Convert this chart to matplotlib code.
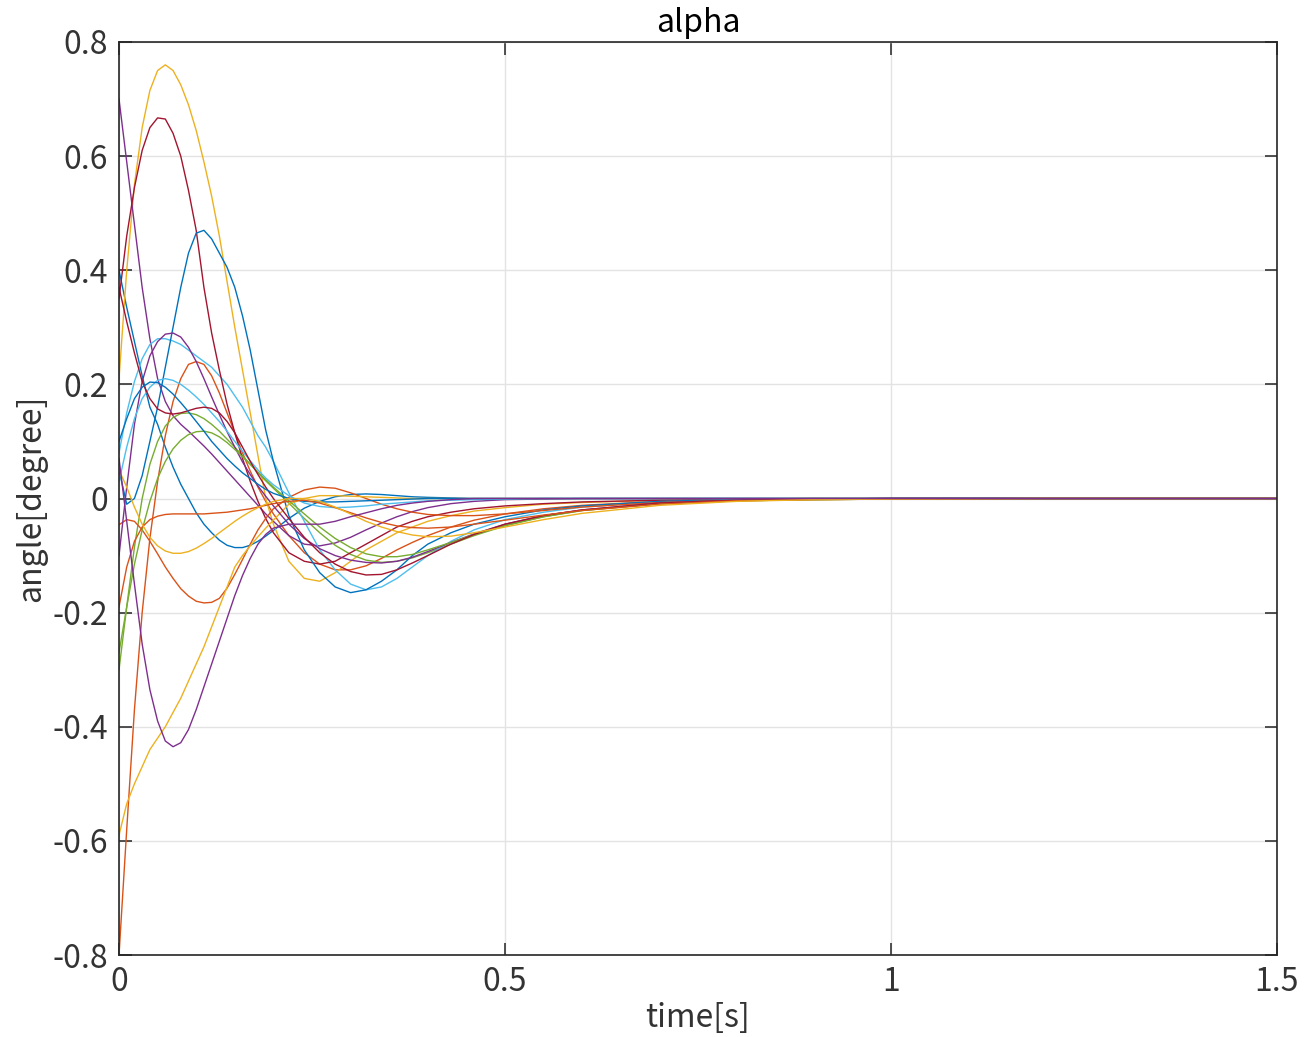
import matplotlib
matplotlib.use("Agg")
import matplotlib.pyplot as plt

plt.rcParams['font.family'] = ['Noto Sans CJK JP', 'DejaVu Sans']

# sample times (s)
t = [0, 0.01, 0.02, 0.03, 0.04, 0.05, 0.06, 0.07, 0.08, 0.09, 0.10,
     0.11, 0.12, 0.13, 0.14, 0.15, 0.16, 0.17, 0.18, 0.19, 0.20,
     0.22, 0.24, 0.26, 0.28, 0.30, 0.32, 0.34, 0.36, 0.38, 0.40,
     0.43, 0.46, 0.50, 0.55, 0.60, 0.70, 0.80, 0.90, 1.00, 1.20, 1.50]

# series values (plot order)
b1 = [0.40, 0.335, 0.275, 0.215, 0.16, 0.13, 0.09, 0.055, 0.025, 0.0, -0.025,
      -0.045, -0.06, -0.073, -0.082, -0.086, -0.086, -0.082, -0.075, -0.066, -0.056,
      -0.035, -0.017, -0.005, 0.003, 0.007, 0.008, 0.007, 0.005, 0.003, 0.002,
      0.001, 0.0, 0.0, 0.0, 0.0, 0.0, 0.0, 0.0, 0.0, 0.0, 0.0]
o1 = [-0.80, -0.58, -0.37, -0.20, -0.07, 0.03, 0.11, 0.17, 0.21, 0.235, 0.24,
      0.235, 0.215, 0.185, 0.15, 0.115, 0.08, 0.048, 0.02, -0.005, -0.027,
      -0.065, -0.095, -0.115, -0.125, -0.125, -0.118, -0.105, -0.09, -0.077, -0.065,
      -0.05, -0.038, -0.027, -0.018, -0.012, -0.005, -0.002, -0.001, 0.0, 0.0, 0.0]
y1 = [0.21, 0.40, 0.55, 0.65, 0.715, 0.75, 0.76, 0.75, 0.725, 0.69, 0.645,
      0.59, 0.53, 0.46, 0.38, 0.30, 0.225, 0.15, 0.075, 0.0, -0.045,
      -0.11, -0.14, -0.145, -0.13, -0.11, -0.09, -0.075, -0.06, -0.05, -0.04,
      -0.03, -0.022, -0.016, -0.01, -0.007, -0.003, -0.001, 0.0, 0.0, 0.0, 0.0]
p1 = [0.70, 0.59, 0.48, 0.37, 0.28, 0.21, 0.17, 0.145, 0.13, 0.118, 0.105,
      0.092, 0.078, 0.063, 0.048, 0.033, 0.018, 0.003, -0.012, -0.027, -0.04,
      -0.065, -0.08, -0.083, -0.078, -0.068, -0.055, -0.043, -0.032, -0.023, -0.016,
      -0.009, -0.005, -0.002, -0.001, 0.0, 0.0, 0.0, 0.0, 0.0, 0.0, 0.0]
g1 = [-0.30, -0.19, -0.085, 0.0, 0.06, 0.10, 0.127, 0.142, 0.149, 0.15, 0.147,
      0.14, 0.13, 0.118, 0.104, 0.09, 0.075, 0.06, 0.045, 0.031, 0.018,
      -0.008, -0.035, -0.06, -0.082, -0.098, -0.108, -0.112, -0.11, -0.104, -0.095,
      -0.08, -0.065, -0.048, -0.032, -0.021, -0.009, -0.004, -0.002, -0.001, 0.0, 0.0]
c1 = [0.08, 0.15, 0.205, 0.245, 0.27, 0.28, 0.28, 0.276, 0.27, 0.26, 0.25,
      0.24, 0.23, 0.215, 0.20, 0.18, 0.16, 0.135, 0.11, 0.09, 0.065,
      0.01, -0.04, -0.09, -0.125, -0.15, -0.16, -0.155, -0.14, -0.12, -0.10,
      -0.075, -0.055, -0.037, -0.024, -0.015, -0.006, -0.003, -0.001, 0.0, 0.0, 0.0]
r1 = [0.35, 0.46, 0.545, 0.61, 0.65, 0.667, 0.665, 0.64, 0.60, 0.54, 0.47,
      0.37, 0.29, 0.225, 0.165, 0.115, 0.07, 0.03, -0.005, -0.035, -0.06,
      -0.095, -0.11, -0.115, -0.11, -0.095, -0.08, -0.065, -0.05, -0.04, -0.032,
      -0.024, -0.018, -0.013, -0.009, -0.006, -0.003, -0.001, 0.0, 0.0, 0.0, 0.0]
b2 = [0.05, -0.01, 0.0, 0.04, 0.10, 0.16, 0.23, 0.30, 0.37, 0.43, 0.465,
      0.47, 0.455, 0.43, 0.405, 0.37, 0.32, 0.26, 0.19, 0.12, 0.065,
      -0.03, -0.09, -0.13, -0.155, -0.165, -0.16, -0.145, -0.125, -0.10, -0.08,
      -0.06, -0.045, -0.032, -0.02, -0.013, -0.005, -0.002, -0.001, 0.0, 0.0, 0.0]
o2 = [-0.046, -0.037, -0.04, -0.055, -0.075, -0.097, -0.12, -0.14, -0.158, -0.171, -0.18,
      -0.183, -0.182, -0.175, -0.157, -0.133, -0.107, -0.08, -0.055, -0.035, -0.018,
      0.002, 0.015, 0.02, 0.018, 0.01, 0.0, -0.01, -0.018, -0.024, -0.028,
      -0.03, -0.03, -0.027, -0.021, -0.015, -0.007, -0.003, -0.001, 0.0, 0.0, 0.0]
y2 = [-0.59, -0.535, -0.50, -0.47, -0.44, -0.42, -0.40, -0.375, -0.35, -0.32, -0.29,
      -0.26, -0.225, -0.19, -0.155, -0.12, -0.10, -0.083, -0.067, -0.052, -0.038,
      -0.01, 0.0, 0.005, 0.005, 0.004, 0.003, 0.002, 0.001, 0.0, 0.0,
      0.0, 0.0, 0.0, 0.0, 0.0, 0.0, 0.0, 0.0, 0.0, 0.0, 0.0]
p2 = [-0.10, 0.02, 0.13, 0.205, 0.25, 0.275, 0.288, 0.29, 0.283, 0.265, 0.24,
      0.21, 0.178, 0.147, 0.117, 0.09, 0.064, 0.042, 0.022, 0.004, -0.013,
      -0.045, -0.07, -0.088, -0.10, -0.108, -0.112, -0.113, -0.11, -0.103, -0.093,
      -0.077, -0.062, -0.045, -0.03, -0.02, -0.008, -0.003, -0.001, 0.0, 0.0, 0.0]
g2 = [-0.27, -0.19, -0.115, -0.055, -0.005, 0.035, 0.065, 0.087, 0.102, 0.112, 0.117,
      0.118, 0.115, 0.108, 0.098, 0.086, 0.073, 0.06, 0.046, 0.033, 0.02,
      -0.004, -0.027, -0.05, -0.07, -0.086, -0.097, -0.102, -0.102, -0.098, -0.09,
      -0.077, -0.063, -0.047, -0.032, -0.021, -0.009, -0.004, -0.002, -0.001, 0.0, 0.0]
c2 = [0.03, 0.09, 0.14, 0.175, 0.195, 0.207, 0.21, 0.207, 0.20, 0.19, 0.178,
      0.165, 0.15, 0.135, 0.118, 0.10, 0.083, 0.066, 0.05, 0.036, 0.024,
      0.005, -0.008, -0.014, -0.016, -0.015, -0.013, -0.01, -0.008, -0.006, -0.004,
      -0.003, -0.002, -0.001, 0.0, 0.0, 0.0, 0.0, 0.0, 0.0, 0.0, 0.0]
r2 = [0.37, 0.31, 0.255, 0.205, 0.175, 0.157, 0.15, 0.148, 0.15, 0.154, 0.158,
      0.16, 0.158, 0.15, 0.135, 0.115, 0.09, 0.065, 0.042, 0.02, 0.0,
      -0.035, -0.068, -0.095, -0.115, -0.128, -0.134, -0.133, -0.125, -0.113, -0.10,
      -0.08, -0.063, -0.045, -0.03, -0.02, -0.008, -0.003, -0.001, 0.0, 0.0, 0.0]
b3 = [0.10, 0.14, 0.175, 0.195, 0.204, 0.203, 0.195, 0.183, 0.168, 0.152, 0.135,
      0.118, 0.10, 0.085, 0.07, 0.057, 0.045, 0.035, 0.025, 0.016, 0.009,
      0.0, -0.005, -0.006, -0.006, -0.005, -0.004, -0.003, -0.002, -0.001, 0.0,
      0.0, 0.0, 0.0, 0.0, 0.0, 0.0, 0.0, 0.0, 0.0, 0.0, 0.0]
o3 = [-0.19, -0.12, -0.075, -0.05, -0.037, -0.031, -0.028, -0.027, -0.027, -0.027, -0.027,
      -0.027, -0.026, -0.025, -0.024, -0.022, -0.02, -0.018, -0.015, -0.012, -0.009,
      -0.005, -0.003, -0.008, -0.016, -0.025, -0.034, -0.042, -0.048, -0.051, -0.052,
      -0.05, -0.045, -0.038, -0.029, -0.021, -0.01, -0.004, -0.002, -0.001, 0.0, 0.0]
y3 = [0.05, 0.02, -0.015, -0.045, -0.068, -0.083, -0.092, -0.096, -0.096, -0.093, -0.087,
      -0.079, -0.07, -0.06, -0.05, -0.04, -0.031, -0.023, -0.016, -0.01, -0.005,
      0.0, 0.0, -0.005, -0.015, -0.027, -0.04, -0.05, -0.058, -0.064, -0.067,
      -0.066, -0.06, -0.05, -0.037, -0.026, -0.012, -0.005, -0.002, -0.001, 0.0, 0.0]
p3 = [0.07, -0.04, -0.15, -0.255, -0.335, -0.39, -0.425, -0.435, -0.428, -0.405, -0.37,
      -0.33, -0.29, -0.25, -0.21, -0.17, -0.135, -0.105, -0.08, -0.063, -0.052,
      -0.045, -0.045, -0.045, -0.04, -0.032, -0.025, -0.018, -0.012, -0.008, -0.005,
      -0.002, 0.0, 0.0, 0.0, 0.0, 0.0, 0.0, 0.0, 0.0, 0.0, 0.0]

series = [b1, o1, y1, p1, g1, c1, r1, b2, o2, y2, p2, g2, c2, r2, b3, o3, y3, p3]

x_ticks = [0, 0.5, 1, 1.5]
x_tick_labels = ["0", "0.5", "1", "1.5"]
y_ticks = [-0.8, -0.6, -0.4, -0.2, 0, 0.2, 0.4, 0.6, 0.8]
y_tick_labels = ["-0.8", "-0.6", "-0.4", "-0.2", "0", "0.2", "0.4", "0.6", "0.8"]

colors = ["#0072BD", "#D95319", "#EDB120", "#7E2F8E", "#77AC30", "#4DBEEE", "#A2142F"]

fig = plt.figure(figsize=(13.05, 10.37), dpi=100)
ax = fig.add_axes([119/1305, 82/1037, (1277-119)/1305, (955-42)/1037])

for i, s in enumerate(series):
    ax.plot(t, s, color=colors[i % 7], lw=1.0, solid_joinstyle='round')

ax.set_xlim(0, 1.5)
ax.set_ylim(-0.8, 0.8)
ax.set_xticks(x_ticks)
ax.set_xticklabels(x_tick_labels)
ax.set_yticks(y_ticks)
ax.set_yticklabels(y_tick_labels)
ax.grid(True, color="#e3e3e3", lw=1.0)
ax.set_axisbelow(True)
ax.tick_params(direction='in', length=9, width=1.2, colors="#333333",
               labelsize=23, top=True, right=True, pad=8)
for sp in ax.spines.values():
    sp.set_color("#262626")
    sp.set_linewidth(1.2)

ax.set_title("alpha", fontsize=23, color="#000000", pad=7)
ax.set_xlabel("time[s]", fontsize=23, color="#333333", labelpad=3)
ax.set_ylabel("angle[degree]", fontsize=23, color="#333333", labelpad=4)

fig.savefig("out.png", dpi=100)
